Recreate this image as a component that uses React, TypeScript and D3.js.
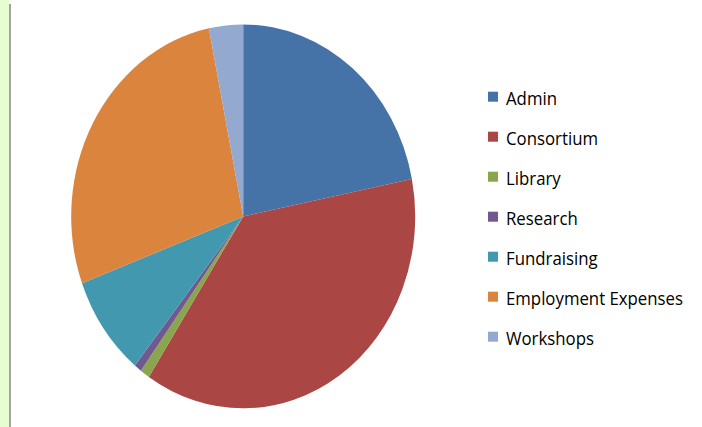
import React from "react";
import * as d3 from "d3";

const categories = ["Admin", "Consortium", "Library", "Research", "Fundraising", "Employment Expenses", "Workshops"];
const values = [21.9, 37.4, 0.9, 0.7, 8.5, 27.5, 3.2];
const colors = ["#4572A7", "#AA4643", "#89A54E", "#71588F", "#4198AF", "#DB843D", "#93A9CF"];

const W = 702;
const H = 427;

export default function App() {
  const cx = 243.2;
  const cy = 216.4;
  const r = 172;
  const sy = 1.116;

  const pie = d3.pie<number>().sort(null).value((d) => d);
  const arcs = pie(values);
  const arc = d3.arc<d3.PieArcDatum<number>>().innerRadius(0).outerRadius(r);

  const legendY = d3.scaleLinear().domain([0, 1]).range([91.7, 131.7]);

  return (
    <svg width={W} height={H} style={{ position: "absolute", left: 0, top: 0, background: "#fff" }}>
      <rect x={0} y={0} width={W} height={H} fill="#fff" />
      <rect x={0} y={0} width={9} height={H} fill="#E5FDD0" />
      <rect x={9} y={4} width={2} height={H - 4} fill="#A3A3A3" />
      <g transform={`translate(${cx},${cy}) scale(1,${sy})`}>
        {arcs.map((a, i) => (
          <path key={categories[i]} d={arc(a) || ""} fill={colors[i]} />
        ))}
      </g>
      <g>
        {categories.map((c, i) => (
          <g key={c} transform={`translate(488,${legendY(i)})`}>
            <rect x={0} y={0} width={10} height={10} fill={colors[i]} />
            <g transform="translate(18,13.5) scale(1,1.06)">
              <text x={0} y={0} fontFamily="'Open Sans', 'Liberation Sans', sans-serif" fontSize={16.8} fill="#000">
                {c}
              </text>
            </g>
          </g>
        ))}
      </g>
    </svg>
  );
}
